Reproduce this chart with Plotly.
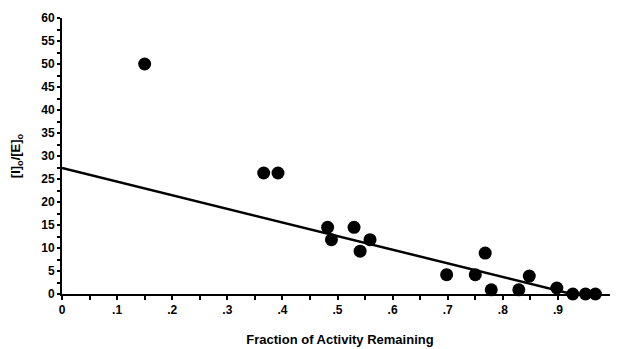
import plotly.graph_objects as go

# Data
fraction = [0.15, 0.366, 0.392, 0.482, 0.489, 0.530, 0.541, 0.559, 0.698, 0.750, 0.768, 0.779, 0.829, 0.848, 0.898, 0.927, 0.950, 0.968]
ratio =    [50.0, 26.3, 26.3, 14.5, 11.8, 14.5, 9.3, 11.8, 4.2, 4.2, 8.9, 0.9, 0.9, 3.9, 1.3, 0.0, 0.0, 0.0]

fit_x = [0.0, 0.925]
fit_y = [27.4, 0.0]

x_tick_vals = [0, 0.1, 0.2, 0.3, 0.4, 0.5, 0.6, 0.7, 0.8, 0.9, 1.0]
x_tick_text = ["0", ".1", ".2", ".3", ".4", ".5", ".6", ".7", ".8", ".9", "1"]
y_tick_vals = [0, 5, 10, 15, 20, 25, 30, 35, 40, 45, 50, 55, 60]
y_tick_text = [str(v) for v in y_tick_vals]

font_family = "Liberation Sans, Arial, sans-serif"

fig = go.Figure()
fig.add_trace(go.Scatter(x=fit_x, y=fit_y, mode="lines",
                         line=dict(color="black", width=2.5),
                         cliponaxis=False, showlegend=False, hoverinfo="skip"))
fig.add_trace(go.Scatter(x=fraction, y=ratio, mode="markers",
                         marker=dict(color="black", size=13),
                         cliponaxis=False, showlegend=False))

fig.update_layout(
    width=610, height=341,
    margin=dict(l=54, r=0, t=10, b=55),
    paper_bgcolor="white", plot_bgcolor="white",
    font=dict(family=font_family, color="black"),
    xaxis=dict(
        range=[0, 1.009], showgrid=False, zeroline=False, automargin=False,
        showline=True, linecolor="black", linewidth=2,
        ticks="outside", ticklen=4, tickwidth=2, tickcolor="black",
        tickvals=x_tick_vals, ticktext=x_tick_text,
        tickfont=dict(size=12, family=font_family, weight="bold"),
        ticklabeloverflow="allow",
        minor=dict(dtick=0.05, ticks="outside", ticklen=4, tickwidth=2, tickcolor="black", showgrid=False),
        title=dict(text="<b>Fraction of Activity Remaining</b>", font=dict(size=13), standoff=18),
    ),
    yaxis=dict(
        range=[0, 60], showgrid=False, zeroline=False, automargin=False,
        showline=True, linecolor="black", linewidth=2,
        ticks="outside", ticklen=3, tickwidth=2, tickcolor="black",
        tickvals=y_tick_vals, ticktext=y_tick_text,
        tickfont=dict(size=12, family=font_family, weight="bold"),
        ticklabelstandoff=0,
        minor=dict(dtick=2.5, ticks="outside", ticklen=3, tickwidth=2, tickcolor="black", showgrid=False),
        title=dict(text="<b>[I]<sub>o</sub>/[E]<sub>o</sub></b>", font=dict(size=13), standoff=22),
    ),
)

fig.write_html("out.html")
